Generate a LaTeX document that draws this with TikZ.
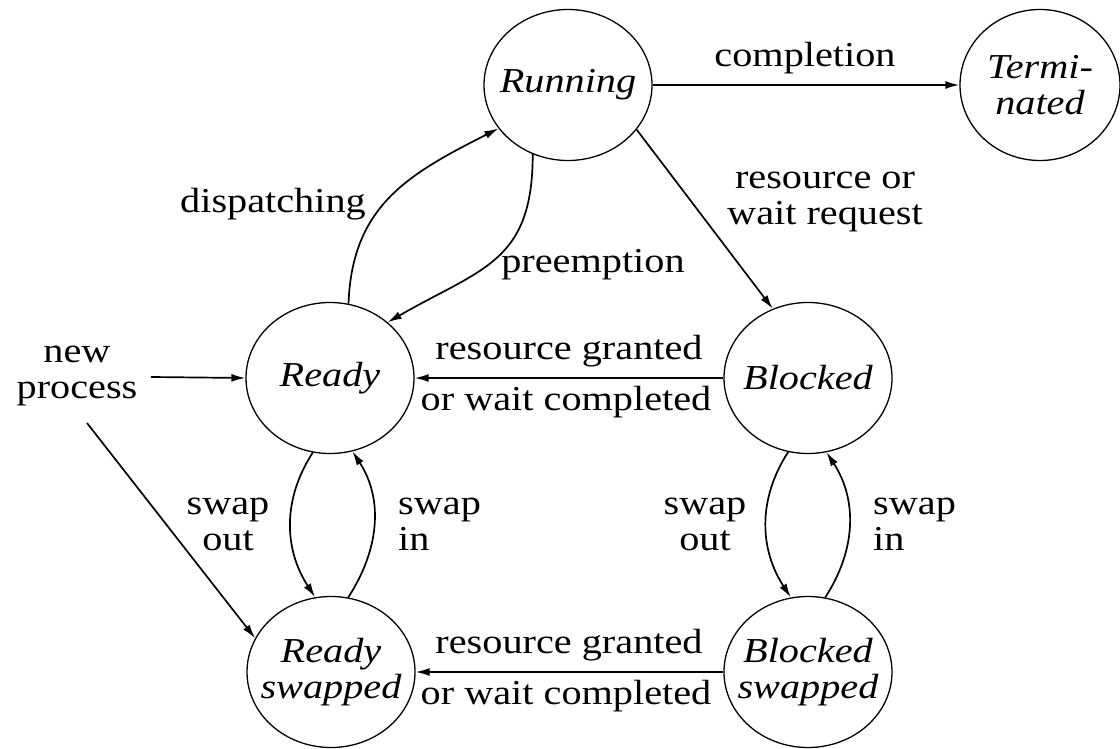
\documentclass[tikz,border=0pt]{standalone}
\usepackage{fontspec}
\setmainfont{Liberation Serif}[FakeStretch=1.15]
\usetikzlibrary{arrows.meta,shapes.geometric}
% zero-width box: keeps the ellipse size independent of its text
\newcommand\zw[1]{\makebox[0pt]{#1}}
\begin{document}
\begin{tikzpicture}[x=1pt,y=1pt,
  every node/.style={font=\fontsize{35}{36}\selectfont},
  state/.style={ellipse, draw, line width=1.3pt, minimum width=168pt,
    minimum height=151pt, inner sep=0pt, align=center,
    font=\fontsize{35}{36}\selectfont\itshape},
  lbl/.style={align=center, inner sep=0pt},
  conn/.style={line width=1.7pt, -{Latex[length=14pt,width=8pt]}}]
\fill[white] (0,0) rectangle (1120,-749);
\useasboundingbox (0,0) rectangle (1120,-749);

% process states
\node[state] (run) at (568,-85) {\zw{Running}};
\node[state, minimum width=160pt] (term) at (1040,-85) {\zw{Termi-}\\\zw{nated}};
\node[state] (rdy) at (330,-378) {\zw{Ready}};
\node[state] (blk) at (808,-378) {\zw{Blocked}};
\node[state] (rsw) at (331,-672) {\zw{Ready}\\\zw{swapped}};
\node[state] (bsw) at (808,-672) {\zw{Blocked}\\\zw{swapped}};

% transition labels
\node[lbl, anchor=base] (lcomp) at (805,-67) {completion};
\node[lbl] (lreq) at (825,-202) {resource or\\wait request};
\node[lbl, anchor=base] (ldisp) at (273,-212) {dispatching};
\node[lbl, anchor=base] (lpre) at (593,-272) {preemption};
\node[lbl, anchor=base] (lg1) at (569,-359) {resource granted};
\node[lbl, anchor=base] (lw1) at (566,-410) {or wait completed};
\node[lbl, anchor=base] (lg2) at (569,-653) {resource granted};
\node[lbl, anchor=base] (lw2) at (566,-704) {or wait completed};
\node[lbl] (lnew) at (77,-376) {new\\process};
\node[lbl] (lso1) at (228,-524) {swap\\out};
\node[lbl, align=left, anchor=west] (lsi1) at (398,-524) {swap\\in};
\node[lbl] (lso2) at (705,-524) {swap\\out};
\node[lbl, align=left, anchor=west] (lsi2) at (873,-524) {swap\\in};

% entry points of new processes
\coordinate (np1) at (151,-377);
\coordinate (np2) at (87,-423);

% transitions
\draw[conn] (run.east) -- (term.west);
\draw[conn] (rdy.76) to[out=88, in=207, looseness=1.1] (run.212);
\draw[conn] (run.243) to[out=-90, in=30, looseness=1.25] (rdy.44);
\draw[conn] (run.327) -- (blk.117);
\draw[conn] (blk.west) -- (rdy.east);
\draw[conn] (bsw.west) -- (rsw.east);
\draw[conn] (np1) -- (rdy.west);
\draw[conn] (np2) -- (rsw.156);
\draw[conn] (rdy.257) to[out=237, in=123] (rsw.102);
\draw[conn] (rsw.77) to[out=57, in=303] (rdy.287);
\draw[conn] (blk.255) to[out=237, in=123] (bsw.103);
\draw[conn] (bsw.77) to[out=57, in=303] (blk.284);
\end{tikzpicture}
\end{document}
